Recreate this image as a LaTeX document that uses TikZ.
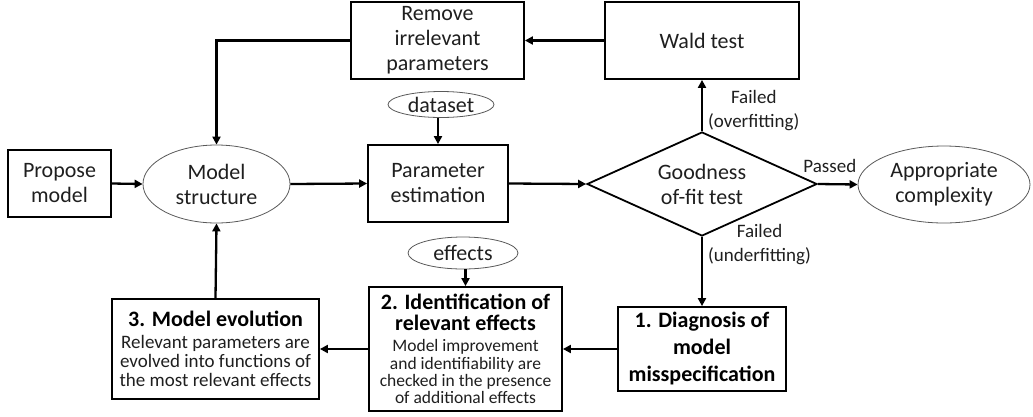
\documentclass[tikz,border=0pt]{standalone}
\usepackage{fontspec}
\setmainfont{Carlito}
\usetikzlibrary{arrows.meta,shapes.geometric}
\lineskiplimit=-50pt
\begin{document}
\begin{tikzpicture}[x=1pt,y=-1pt,
  txt/.style={text=black!88},
  box/.style={draw=black,line width=1.8pt,align=center,inner sep=0pt,txt,
    font=\fontsize{22}{25}\selectfont},
  oval/.style={ellipse,draw=black!65,line width=0.8pt,inner sep=0pt,align=center,txt,
    font=\fontsize{22}{25}\selectfont},
  flow/.style={line width=2.3pt,-{Triangle[length=8pt,width=8pt]}},
  lbl/.style={align=center,inner sep=0pt,txt,font=\fontsize{19}{24}\selectfont},
]
\useasboundingbox (0,0) rectangle (1033,416);

% upper row
\node[box,minimum width=173pt,minimum height=77pt] (remove) at (437.5,40.5)
  {Remove\\irrelevant\\parameters};
\node[box,minimum width=194pt,minimum height=77pt] (wald) at (702,40.5) {Wald test};

% main row
\node[box,minimum width=103pt,minimum height=67pt] (propose) at (59.5,183.5) {Propose\\model};
\node[oval,minimum width=147pt,minimum height=78pt] (mstruct) at (216.5,184) {Model\\structure};
\node[oval,minimum width=106pt,minimum height=26pt] (dataset) at (441,104.5) {dataset};
\node[box,minimum width=140pt,minimum height=77pt] (param) at (438,183.5) {Parameter\\estimation};
\node[diamond,aspect=2.2,draw=black,line width=1.8pt,inner sep=0pt,align=center,txt,
  font=\fontsize{22}{25}\selectfont,minimum width=230pt,minimum height=104pt] (gof) at (702,184)
  {Goodness\\of-fit test};
\node[oval,minimum width=172pt,minimum height=77pt] (approp) at (944,184.5) {Appropriate\\complexity};

% lower row
\node[oval,minimum width=110pt,minimum height=32pt] (effects) at (463,253) {effects};
\node[box,minimum width=168pt,minimum height=84pt,font=\bfseries\fontsize{22}{27}\selectfont,text=black]
  (diag) at (702,349) {1. Diagnosis of\\model\\misspecification};
\node[box,minimum width=193pt,minimum height=124pt] (ident) at (465.5,349)
  {\makebox[0pt]{\parbox{240pt}{\centering
    {\bfseries\fontsize{22}{21}\selectfont\color{black}2. Identification of\\relevant effects\par}
    \vspace{4pt}
    {\fontsize{17.5}{17.2}\selectfont Model improvement\\and identifiability are\\checked in the presence\\of additional effects\par}}}};
\node[box,minimum width=207pt,minimum height=100pt] (evol) at (215.5,349)
  {\makebox[0pt]{\parbox{240pt}{\centering
    {\bfseries\fontsize{22}{22}\selectfont\color{black}3. Model evolution\par}
    \vspace{3pt}
    {\fontsize{19}{19}\selectfont Relevant parameters are\\evolved into functions of\\the most relevant effects\par}}}};

% connectors
\draw[flow] (propose.east) -- (mstruct.west);
\draw[flow] (mstruct.east) -- (param.west);
\draw[flow] (dataset.south -| param.north) -- (param.north);
\draw[flow] (param.east) -- (gof.west);
\draw[flow] (gof.east) -- node[lbl,pos=0.3,anchor=base,yshift=12pt] {Passed} (approp.west);
\draw[flow] (gof.north) -- node[lbl,pos=0.4,anchor=west,xshift=5pt] {Failed\\(overfitting)} (wald.south);
\draw[flow] (wald.west) -- (remove.east);
\draw[flow] (remove.west) -| (mstruct.north);
\draw[flow] (gof.south) -- node[lbl,pos=0.11,anchor=west,xshift=5pt] {Failed\\(underfitting)} (diag.north);
\draw[flow] (diag.west) -- (ident.east);
\draw[flow] (effects.south -| ident.north) -- (ident.north);
\draw[flow] (ident.west) -- (evol.east);
\draw[flow] (evol.north) -- (mstruct.south);
\end{tikzpicture}
\end{document}
